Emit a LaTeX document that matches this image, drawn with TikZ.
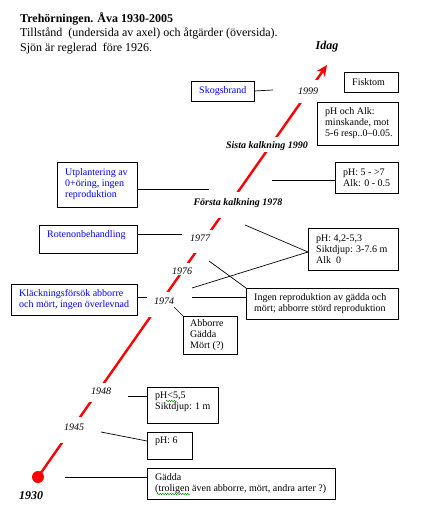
\documentclass[tikz,border=0pt]{standalone}
\usepackage{fontspec}
\setmainfont{Liberation Serif}
\usetikzlibrary{arrows.meta,decorations.pathmorphing}
\definecolor{axisred}{RGB}{255,0,0}
\definecolor{boxblue}{RGB}{0,0,255}
\definecolor{spellgreen}{RGB}{0,150,0}
% name, x, y, w, h, extra text style, text
\newcommand{\infobox}[7]{%
  \node[boxframe, minimum width=#4pt, minimum height=#5pt] (#1) at (#2,#3) {};
  \node[boxtext, #6] (#1-t) at ([xshift=8pt]#1.west) {#7};
}
\begin{document}
\begin{tikzpicture}[x=1pt,y=-1pt,
  boxframe/.style={draw, line width=0.9pt, anchor=north west, inner sep=0pt, outer sep=0pt},
  boxtext/.style={anchor=west, align=left, inner sep=0pt, font=\fontsize{10}{11}\selectfont},
  act/.style={text=boxblue},
  yr/.style={fill=white, inner xsep=5pt, inner ysep=0pt, anchor=base, font=\fontsize{10}{12}\selectfont\itshape},
  ev/.style={yr, font=\fontsize{10}{12}\selectfont\bfseries\itshape},
  big/.style={anchor=base, inner sep=0pt, font=\fontsize{12}{14}\selectfont\bfseries\itshape},
  head/.style={anchor=base west, inner sep=0pt, font=\fontsize{12}{14}\selectfont},
  conn/.style={draw, line width=0.7pt},
  redaxis/.style={draw=axisred, line width=2.4pt, -{Stealth[length=11pt,width=10pt,inset=3.5pt]}},
  spell/.style={draw=spellgreen, line width=0.45pt, decorate, decoration={snake, segment length=2.5pt, amplitude=0.8pt}}
]
\useasboundingbox (0,0) rectangle (423,511);

% header
\node[head, font=\fontsize{12}{14}\selectfont\bfseries] (title) at (20,23) {Trehörningen. Åva 1930-2005};
\node[head] (sub1) at (20,37) {Tillstånd\ \ (undersida av axel) och åtgärder (översida).};
\node[head] (sub2) at (20,52) {Sjön är reglerad\ \ före 1926.};

% time axis
\coordinate (tip) at (327,65);
\node[circle, fill=axisred, minimum size=12pt, inner sep=0pt] (dot) at (38,477) {};
\draw[redaxis] (dot.center) -- (tip);

\node[big] (idag) at (327,50) {Idag};
\node[big] (y1930) at (31,499) {1930};

% labels on the axis
\node[yr, text height=14pt, text depth=9pt] (y1999) at (308,94) {1999};
\node[ev, text height=11pt, text depth=4pt] (s1990) at (267,148) {Sista kalkning 1990};
\node[ev, text height=13pt, text depth=13pt] (f1978) at (238,205) {Första kalkning 1978};
\node[yr, text height=11pt, text depth=12pt] (y1977) at (200,241) {1977};
\node[yr, text height=11pt, text depth=1pt] (y1976) at (182,274) {1976};
\node[yr, text height=12pt, text depth=13pt] (y1974) at (164,304) {1974};
\node[yr, text height=11pt, text depth=8pt] (y1948) at (101,394) {1948};
\node[yr, text height=13pt, text depth=13pt] (y1945) at (74,430) {1945};

% boxes
\infobox{skog}{191}{81}{63}{20}{act}{Skogsbrand}
\infobox{fisk}{344}{72}{54}{20}{}{Fisktom}
\infobox{phalk}{317}{102}{81}{43}{}{pH och Alk:\\minskande, mot\\5-6 resp..0–0.05.}
\infobox{utpl}{57}{162}{80}{45}{act}{Utplantering av\\0+öring, ingen\\reproduktion}
\infobox{ph57}{335}{162}{63}{31}{}{pH: 5 - >7\\Alk: 0 - 0.5}
\infobox{roten}{39}{225}{98}{28}{act, yshift=4pt}{Rotenonbehandling}
\infobox{ph42}{308}{228}{90}{42}{}{pH: 4,2-5,3\\Siktdjup: 3-7.6 m\\Alk\ \ 0}
\infobox{ingen}{246}{288}{152}{31}{}{Ingen reproduktion av gädda och\\mört; abborre störd reproduktion}
\infobox{klack}{11}{284}{126}{31}{act}{Kläckningsförsök abborre\\och mört, ingen överlevnad}
\infobox{abb}{183}{316}{54}{38}{xshift=-1pt}{Abborre\\Gädda\\Mört (?)}
\infobox{ph55}{147}{387}{71}{36}{yshift=3pt}{pH<5,5\\Siktdjup: 1 m}
\infobox{ph6}{147}{432}{45}{27}{yshift=4pt}{pH: 6}
\infobox{gadda}{147}{468}{188}{31}{}{Gädda\\(troligen även abborre, mört, andra arter ?)}

% connectors
\coordinate (c1) at (273,90);
\draw[conn] (skog.east) -- (c1);
\coordinate (c2) at (209,189);
\draw[conn] (c2 -| utpl.east) -- (c2);
\coordinate (c3) at (272,180);
\draw[conn] (c3) -- (c3 -| ph57.west);
\coordinate (c4) at (182,234);
\draw[conn] (c4 -| roten.east) -- (c4);
\coordinate (c5) at (245,225);
\coordinate (c6) at (192,288);
\draw[conn] (c5) -- ([yshift=-3pt]ph42.west);
\draw[conn] (c6) -- ([yshift=-3pt]ph42.west);
\coordinate (c7) at (209,261);
\draw[conn] (c7) -- (ingen.north west);
\coordinate (c8) at (192,297);
\draw[conn] (c8) -- (c8 -| ingen.west);
\coordinate (c9) at (147,297);
\draw[conn] (c9 -| klack.east) -- (c9);
\coordinate (c10) at (174,307);
\draw[conn] (c10) -- (abb.north west);
\coordinate (c11) at (128,396);
\draw[conn] (c11) -- (c11 -| ph55.west);
\coordinate (c12) at (101,432);
\draw[conn] (c12) -- ([yshift=4.5pt]ph6.west);
\coordinate (c13) at (65,477);
\draw[conn] (c13) -- (c13 -| gadda.west);

% spell-check underlines
\draw[spell] (166,401) -- (177,401);
\draw[spell] (157,494) -- (190,494);
\end{tikzpicture}
\end{document}
